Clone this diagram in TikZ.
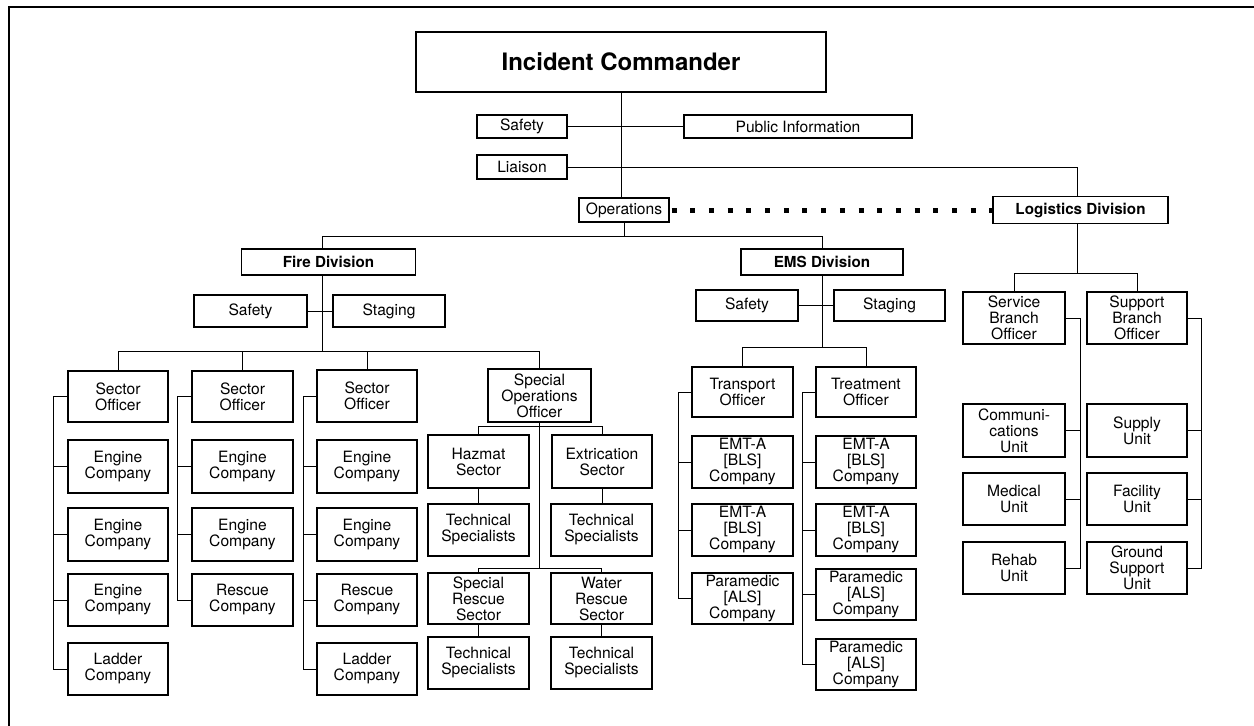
\documentclass[tikz,border=0pt]{standalone}
\usepackage{fontspec}
\setmainfont{TeX Gyre Heros}
\newcommand\fsn{\fontsize{15.6}{16}\selectfont}
\newcommand\fsb{\fontsize{15.2}{16}\selectfont\bfseries}
\newcommand\fsic{\fontsize{24}{26}\selectfont\bfseries}
\tikzset{
  box/.style={draw, line width=1.1pt, inner sep=0pt, align=center, font=\fsn},
  bbox/.style={box, font=\fsb},
  conn/.style={line width=0.9pt},
  dotline/.style={line width=5pt, dash pattern=on 5pt off 13.7pt, dash phase=-2pt},
  frame/.style={line width=2.5pt}
}
\begin{document}
\begin{tikzpicture}[x=1pt,y=-1pt]
\useasboundingbox (0,0) rectangle (1254,726);
% frame (top and left only)
\draw[frame] (9,726) -- (9,7) -- (1254,7);

% top level
\node[box, font=\fsic, minimum width=410, minimum height=60] (ic) at (621,62) {Incident Commander};
\node[box, minimum width=90, minimum height=23] (safety) at (522,126.5) {Safety};
\node[box, minimum width=228, minimum height=23] (pubinfo) at (798,126.5) {Public Information};
\node[box, minimum width=90, minimum height=24] (liaison) at (522,167) {Liaison};
\node[box, minimum width=90, minimum height=24] (ops) at (624,210) {Operations};
\node[bbox, minimum width=175, minimum height=27] (log) at (1080.5,210) {Logistics Division};

\coordinate (logx) at (1077,167);
\draw[conn] (ic.south) -- (ic.south |- ops.north);
\draw[conn] (safety.east) -- (pubinfo.west);
\draw[conn] (liaison.east) -- (logx) -- (log.north -| logx);
\draw[dotline] (ops.east) -- (log.west);

% divisions
\node[bbox, minimum width=174, minimum height=26] (fire) at (328.5,262) {Fire Division};
\node[bbox, minimum width=162, minimum height=26] (ems) at (822,262) {EMS Division};
\coordinate (firex) at (322,236);
\draw[conn] (ops.south) -- (ops.south |- firex);
\draw[conn] (fire.north -| firex) -- (firex) -| (ems.north);

% Fire division
\node[box, minimum width=113, minimum height=32] (fsafety) at (250.5,311) {Safety};
\node[box, minimum width=112, minimum height=32] (fstaging) at (389,311) {Staging};
\coordinate (fbus) at (322,351);
\draw[conn] (fire.south -| firex) -- (fbus);
\draw[conn] (fsafety.east) -- (fstaging.west);

\node[box, minimum width=100, minimum height=51] (so1) at (118,396.5) {Sector\\Officer};
\node[box, minimum width=101, minimum height=51] (so2) at (242.5,396.5) {Sector\\Officer};
\node[box, minimum width=100, minimum height=52] (so3) at (367,396) {Sector\\Officer};
\node[box, minimum width=103, minimum height=53] (soo) at (539.5,395.5) {Special\\Operations\\Officer};
\draw[conn] (so1.north) -- (so1.north |- fbus) -- (soo.north |- fbus) -- (soo.north);
\draw[conn] (so2.north) -- (so2.north |- fbus);
\draw[conn] (so3.north) -- (so3.north |- fbus);

% column 1
\node[box, minimum width=100, minimum height=53] (c1a) at (118,466.5) {Engine\\Company};
\node[box, minimum width=100, minimum height=53] (c1b) at (118,534.5) {Engine\\Company};
\node[box, minimum width=100, minimum height=52] (c1c) at (118,600) {Engine\\Company};
\node[box, minimum width=100, minimum height=52] (c1d) at (118,669) {Ladder\\Company};
\coordinate (b1) at (53,0);
\draw[conn] (so1.west) -- (so1.west -| b1) -- (c1d.west -| b1) -- (c1d.west);
\foreach \n in {c1a,c1b,c1c} \draw[conn] (\n.west) -- (\n.west -| b1);

% column 2
\node[box, minimum width=101, minimum height=53] (c2a) at (242.5,466.5) {Engine\\Company};
\node[box, minimum width=101, minimum height=53] (c2b) at (242.5,534.5) {Engine\\Company};
\node[box, minimum width=101, minimum height=52] (c2c) at (242.5,600) {Rescue\\Company};
\coordinate (b2) at (177,0);
\draw[conn] (so2.west) -- (so2.west -| b2) -- (c2c.west -| b2) -- (c2c.west);
\foreach \n in {c2a,c2b} \draw[conn] (\n.west) -- (\n.west -| b2);

% column 3
\node[box, minimum width=100, minimum height=53] (c3a) at (367,466.5) {Engine\\Company};
\node[box, minimum width=100, minimum height=53] (c3b) at (367,534.5) {Engine\\Company};
\node[box, minimum width=100, minimum height=52] (c3c) at (367,600) {Rescue\\Company};
\node[box, minimum width=100, minimum height=52] (c3d) at (367,669) {Ladder\\Company};
\coordinate (b3) at (303,0);
\draw[conn] (so3.west) -- (so3.west -| b3) -- (c3d.west -| b3) -- (c3d.west);
\foreach \n in {c3a,c3b,c3c} \draw[conn] (\n.west) -- (\n.west -| b3);

% special operations
\node[box, minimum width=101, minimum height=53] (hazmat) at (478.5,461.5) {Hazmat\\Sector};
\node[box, minimum width=100, minimum height=53] (extric) at (602,461.5) {Extrication\\Sector};
\node[box, minimum width=101, minimum height=52] (ts1) at (478.5,530) {Technical\\Specialists};
\node[box, minimum width=101, minimum height=52] (ts2) at (601.5,530) {Technical\\Specialists};
\node[box, minimum width=101, minimum height=51] (srs) at (478.5,598.5) {Special\\Rescue\\Sector};
\node[box, minimum width=101, minimum height=51] (wrs) at (601.5,598.5) {Water\\Rescue\\Sector};
\node[box, minimum width=101, minimum height=52] (ts3) at (478.5,663) {Technical\\Specialists};
\node[box, minimum width=101, minimum height=52] (ts4) at (601.5,663) {Technical\\Specialists};
\coordinate (sb1) at (539,426);
\coordinate (sb2) at (539,568);
\draw[conn] (soo.south) -- (soo.south |- sb2);
\draw[conn] (hazmat.north) -- (hazmat.north |- sb1) -- (extric.north |- sb1) -- (extric.north);
\draw[conn] (srs.north) -- (srs.north |- sb2) -- (wrs.north |- sb2) -- (wrs.north);
\draw[conn] (hazmat.south) -- (ts1.north);
\draw[conn] (extric.south) -- (extric.south |- ts2.north);
\draw[conn] (srs.south) -- (ts3.north);
\draw[conn] (wrs.south) -- (ts4.north);

% EMS division
\node[box, minimum width=102, minimum height=31] (esafety) at (747,305.5) {Safety};
\node[box, minimum width=111, minimum height=31] (estaging) at (889.5,305.5) {Staging};
\coordinate (ebus) at (822,347);
\draw[conn] (ems.south) -- (ebus);
\draw[conn] (esafety.east) -- (estaging.west);
\node[box, minimum width=101, minimum height=50] (transport) at (742.5,392) {Transport\\Officer};
\node[box, minimum width=100, minimum height=50] (treatment) at (866,392) {Treatment\\Officer};
\draw[conn] (transport.north) -- (transport.north |- ebus) -- (treatment.north |- ebus) -- (treatment.north);

\node[box, minimum width=101, minimum height=52] (t1) at (742.5,462) {EMT-A\\{[BLS]}\\Company};
\node[box, minimum width=101, minimum height=52] (t2) at (742.5,530) {EMT-A\\{[BLS]}\\Company};
\node[box, minimum width=101, minimum height=51] (t3) at (742.5,598.5) {Paramedic\\{[ALS]}\\Company};
\coordinate (b4) at (678,0);
\draw[conn] (transport.west) -- (transport.west -| b4) -- (t3.west -| b4) -- (t3.west);
\foreach \n in {t1,t2} \draw[conn] (\n.west) -- (\n.west -| b4);

\node[box, minimum width=100, minimum height=52] (r1) at (866,462) {EMT-A\\{[BLS]}\\Company};
\node[box, minimum width=100, minimum height=52] (r2) at (866,530) {EMT-A\\{[BLS]}\\Company};
\node[box, minimum width=100, minimum height=51] (r3) at (866,594.5) {Paramedic\\{[ALS]}\\Company};
\node[box, minimum width=100, minimum height=51] (r4) at (866,664.5) {Paramedic\\{[ALS]}\\Company};
\coordinate (b5) at (802,0);
\draw[conn] (treatment.west) -- (treatment.west -| b5) -- (r4.west -| b5) -- (r4.west);
\foreach \n in {r1,r2,r3} \draw[conn] (\n.west) -- (\n.west -| b5);

% Logistics division
\coordinate (lbus) at (1077,273);
\draw[conn] (log.south -| logx) -- (lbus);
\node[box, minimum width=102, minimum height=52] (sbo) at (1014,318) {Service\\Branch\\Officer};
\node[box, minimum width=100, minimum height=52] (spbo) at (1137,318) {Support\\Branch\\Officer};
\draw[conn] (sbo.north) -- (sbo.north |- lbus) -- (spbo.north |- lbus) -- (spbo.north);

\node[box, minimum width=102, minimum height=53] (comm) at (1014,430.5) {Communi-\\cations\\Unit};
\node[box, minimum width=102, minimum height=52] (med) at (1014,499) {Medical\\Unit};
\node[box, minimum width=102, minimum height=52] (rehab) at (1014,568) {Rehab\\Unit};
\coordinate (b6) at (1080,0);
\draw[conn] (sbo.east) -- (sbo.east -| b6) -- (rehab.east -| b6) -- (rehab.east);
\foreach \n in {comm,med} \draw[conn] (\n.east) -- (\n.east -| b6);

\node[box, minimum width=100, minimum height=53] (supply) at (1137,430.5) {Supply\\Unit};
\node[box, minimum width=100, minimum height=52] (facility) at (1137,499) {Facility\\Unit};
\node[box, minimum width=100, minimum height=52] (ground) at (1137,568) {Ground\\Support\\Unit};
\coordinate (b7) at (1201,0);
\draw[conn] (spbo.east) -- (spbo.east -| b7) -- (ground.east -| b7) -- (ground.east);
\foreach \n in {supply,facility} \draw[conn] (\n.east) -- (\n.east -| b7);
\end{tikzpicture}
\end{document}
